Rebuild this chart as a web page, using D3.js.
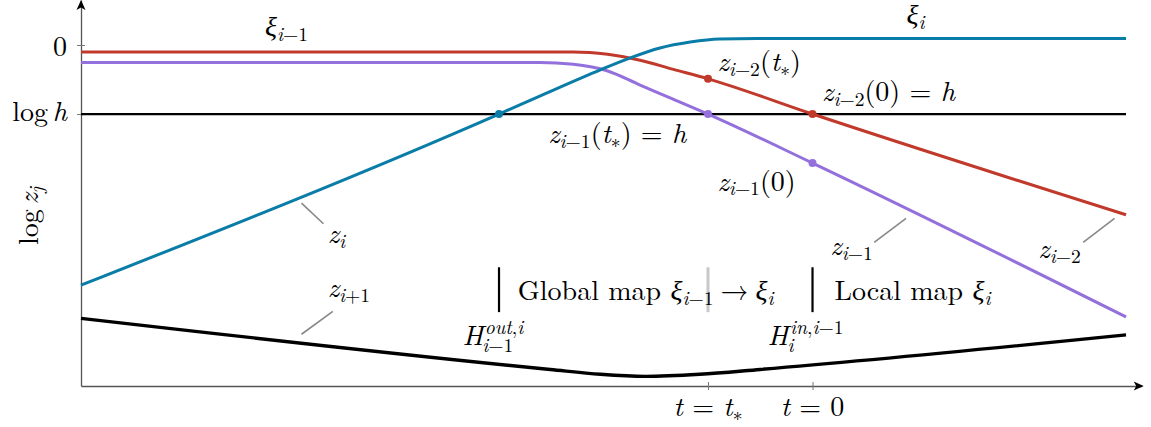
<!DOCTYPE html>
<html>
<head>
<meta charset="utf-8">
<script src="https://cdn.jsdelivr.net/npm/d3@7"></script>
<style>
body{margin:0;background:#fff;}
</style>
</head>
<body>
<div id="chart"></div>
<script>
// all values are in (t, log z) units

// z_{i-2}, red (xi_{i-1} side)
var tRed = [-7, -2.29, -1.96, -1.65, -1.34, -1.0, 0, 3.0];
var zRed = [-0.10, -0.10, -0.135, -0.22, -0.35, -0.49, -1.0, -2.46];

// z_{i-1}, purple
var tPurple = [-7, -2.61, -2.29, -1.96, -1.65, -1.34, -1.0, 0, 3.0];
var zPurple = [-0.254, -0.254, -0.28, -0.377, -0.58, -0.78, -1.0, -1.71, -3.94];

// z_i, blue
var tBlue = [-7, -3.0, -2.61, -2.03, -1.75, -1.46, -1.17, -0.89, -0.53, 3.0];
var zBlue = [-3.48, -1.0, -0.74, -0.36, -0.19, -0.043, 0.043, 0.087, 0.094, 0.094];

// z_{i+1}, black
var tNext = [-7, -2.51, -2.03, -1.60, -1.08, -0.50, 3.0];
var zNext = [-3.96, -4.70, -4.77, -4.80, -4.77, -4.70, -4.20];

// level log h
var tLevel = [-7, 3.0];
var zLevel = [-1, -1];

// marked points
var blueDots = [[-3.0, -1.0]];
var purpleDots = [[-1.0, -1.0], [0, -1.71]];
var redDots = [[-1.0, -0.49], [0, -1.0]];

// ticks
var xTicks = [-1, 0];
var xTickLabels = [
	[["t", "i"], [" = ", "r"], ["t", "i"], ["∗", "_r"]],
	[["t", "i"], [" = 0", "r"]]
];
var yTicks = [0, -1];
var yTickLabels = [
	[["0", "r"]],
	[["log", "r"], ["h", "i", 0.17]]
];

// text labels  (g = greek letter)
var labels = [
	{t: -5.24, z: 0.13, parts: [["ξ", "g"], ["i", "_i"], ["−1", "_r"]]},
	{t: 0.90, z: 0.30, parts: [["ξ", "g"], ["i", "_i"]]},
	{t: -0.91, z: -0.38, parts: [["z", "i"], ["i", "_i"], ["−2", "_r"], ["(", "r"], ["t", "i"], ["∗", "_r"], [")", "r"]]},
	{t: 0.09, z: -0.81, parts: [["z", "i"], ["i", "_i"], ["−2", "_r"], ["(0) = ", "r"], ["h", "i"]]},
	{t: -2.53, z: -1.42, parts: [["z", "i"], ["i", "_i"], ["−1", "_r"], ["(", "r"], ["t", "i"], ["∗", "_r"], [") = ", "r"], ["h", "i"]]},
	{t: -0.91, z: -2.11, parts: [["z", "i"], ["i", "_i"], ["−1", "_r"], ["(0)", "r"]]},
	{t: -4.64, z: -2.87, parts: [["z", "i"], ["i", "_i"]]},
	{t: -4.64, z: -3.65, parts: [["z", "i"], ["i", "_i"], ["+1", "_r"]]},
	{t: 0.17, z: -3.04, parts: [["z", "i"], ["i", "_i"], ["−1", "_r"]]},
	{t: 2.16, z: -3.09, parts: [["z", "i"], ["i", "_i"], ["−2", "_r"]]},
	{t: -2.82, z: -3.70, parts: [["Global map ", "r"], ["ξ", "g"], ["i", "_i"], ["−1", "_r"], ["→", "r", 0.25], ["ξ", "g", 0.25], ["i", "_i"]]},
	{t: 0.21, z: -3.70, parts: [["Local map ", "r"], ["ξ", "g"], ["i", "_i"]]}
];

// H with sub and superscript
var hLabels = [
	{t: -3.35, z: -4.35, sub: [["i", "i"], ["−1", "r"]], sup: [["out", "i"], [",", "r"], ["i", "i"]]},
	{t: -0.43, z: -4.35, sub: [["i", "i"]], sup: [["in", "i"], [",", "r"], ["i", "i"], ["−1", "r"]]}
];

// leader lines from labels to curves
var leaders = [
	[[-4.89, -2.29], [-4.68, -2.59]],
	[[-4.59, -3.86], [-4.89, -4.19]],
	[[0.895, -2.51], [0.59, -2.86]],
	[[2.89, -2.51], [2.59, -2.86]]
];

// map separators
var sepT = [-3.0, 0];
var faintSepT = [-1.0];
var sepZ = [-3.22, -3.87];

var W = 1151, H = 427, fs = 28;
var serif = "'Latin Modern Roman', 'Liberation Serif', serif";
var greek = "'Liberation Serif', serif";

var x = d3.scaleLinear().domain([-7, 3.15]).range([81, 1141.7]);
var y = d3.scaleLinear().domain([-4.94, 0.652]).range([386, 0]);

var svg = d3.select("#chart").append("svg")
	.attr("width", W)
	.attr("height", H);

// writes a little math string as tspans, part = [text, style, optional gap in em]
function mathText(g, px, py, parts, anchor, size){
	var f = size || fs;
	var txt = g.append("text")
		.attr("x", px)
		.attr("y", py)
		.attr("text-anchor", anchor || "start")
		.attr("font-family", serif)
		.style("white-space", "pre")
		.style("font-size", f + "px");
	var cur = 0;
	parts.forEach(function(p){
		var s = p[1];
		var shift = s[0] == "_" ? 0.17 * f : (s[0] == "^" ? -0.41 * f : 0);
		var last = s[s.length - 1];
		var ts = txt.append("tspan")
			.attr("dy", shift - cur)
			.style("font-size", shift != 0 ? (0.7 * f) + "px" : null)
			.style("font-style", (last == "i" || last == "g") ? "italic" : "normal")
			.text(p[0]);
		if (p[2]) ts.attr("dx", p[2] * f);
		if (last == "g") ts.attr("font-family", greek);
		cur = shift;
	});
	return txt;
}

// axes
var xAxis = d3.axisBottom(x).tickValues(xTicks).tickSize(4).tickSizeOuter(0).tickFormat("");
var yAxis = d3.axisLeft(y).tickValues(yTicks).tickSize(4).tickSizeOuter(0).tickFormat("");

var gx = svg.append("g")
	.attr("transform", "translate(0," + y.range()[0] + ")")
	.call(xAxis);
var gy = svg.append("g")
	.attr("transform", "translate(" + x.range()[0] + ",0)")
	.call(yAxis);

[gx, gy].forEach(function(g){
	g.select(".domain").attr("stroke", "#555").attr("stroke-width", 1.3);
	g.selectAll(".tick line").attr("stroke", "#777").attr("stroke-width", 1);
});
gx.selectAll(".tick line").attr("y1", -4).attr("y2", 4);
gy.selectAll(".tick line").attr("x1", -4).attr("x2", 4);

// arrow heads
var xEnd = x.range()[1] + 2, yEnd = y.range()[1];
svg.append("path")
	.attr("d", "M" + xEnd + "," + y.range()[0] + " l-10,-4.5 l2.5,4.5 l-2.5,4.5 z")
	.attr("fill", "#000");
svg.append("path")
	.attr("d", "M" + x.range()[0] + "," + yEnd + " l-4.5,10 l4.5,-2.5 l4.5,2.5 z")
	.attr("fill", "#000");

// tick labels
xTicks.forEach(function(v, i){
	mathText(svg, x(v), y.range()[0] + 30, xTickLabels[i], "middle");
});
yTicks.forEach(function(v, i){
	mathText(svg, x.range()[0] - 14, y(v) + (i == 0 ? 11 : 7), yTickLabels[i], "end");
});

// y axis title
var yt = svg.append("g").attr("transform", "translate(38,216) rotate(-90)");
mathText(yt, 0, 0, [["log", "r"], ["z", "i", 0.17], ["j", "_i"]], "middle");

// curves
var line = d3.line()
	.x(function(d){ return x(d[0]); })
	.y(function(d){ return y(d[1]); })
	.curve(d3.curveMonotoneX);

function series(ts, zs){
	return ts.map(function(t, i){ return [t, zs[i]]; });
}

svg.append("path")
	.attr("d", line(series(tLevel, zLevel)))
	.attr("fill", "none").attr("stroke", "#000").attr("stroke-width", 2.2);

svg.append("path")
	.attr("d", line(series(tNext, zNext)))
	.attr("fill", "none").attr("stroke", "#000").attr("stroke-width", 3.4);

svg.append("path")
	.attr("d", line(series(tRed, zRed)))
	.attr("fill", "none").attr("stroke", "#c0392b").attr("stroke-width", 3);

svg.append("path")
	.attr("d", line(series(tPurple, zPurple)))
	.attr("fill", "none").attr("stroke", "#9370db").attr("stroke-width", 3);

svg.append("path")
	.attr("d", line(series(tBlue, zBlue)))
	.attr("fill", "none").attr("stroke", "#0a7ca8").attr("stroke-width", 3);

// dots
function dots(data, color){
	svg.selectAll(null)
		.data(data)
		.enter()
		.append("circle")
		.attr("cx", function(d){ return x(d[0]); })
		.attr("cy", function(d){ return y(d[1]); })
		.attr("r", 4)
		.style("fill", color);
}
dots(blueDots, "#0a7ca8");
dots(purpleDots, "#9370db");
dots(redDots, "#c0392b");

// leader lines
svg.selectAll(null)
	.data(leaders)
	.enter()
	.append("line")
	.attr("x1", function(d){ return x(d[0][0]); })
	.attr("y1", function(d){ return y(d[0][1]); })
	.attr("x2", function(d){ return x(d[1][0]); })
	.attr("y2", function(d){ return y(d[1][1]); })
	.attr("stroke", "#888")
	.attr("stroke-width", 1.6);

// separators
svg.selectAll(null)
	.data(faintSepT)
	.enter()
	.append("line")
	.attr("x1", function(d){ return x(d); })
	.attr("x2", function(d){ return x(d); })
	.attr("y1", y(sepZ[0]))
	.attr("y2", y(sepZ[1]))
	.attr("stroke", "#c8c8c8")
	.attr("stroke-width", 3);

svg.selectAll(null)
	.data(sepT)
	.enter()
	.append("line")
	.attr("x1", function(d){ return x(d); })
	.attr("x2", function(d){ return x(d); })
	.attr("y1", y(sepZ[0]))
	.attr("y2", y(sepZ[1]))
	.attr("stroke", "#000")
	.attr("stroke-width", 2.2);

// labels
labels.forEach(function(l){
	mathText(svg, x(l.t), y(l.z), l.parts, "start");
});

hLabels.forEach(function(l){
	var px = x(l.t), py = y(l.z);
	var txt = mathText(svg, px, py, [["H", "i"]], "start");
	var w = txt.node().getComputedTextLength();
	mathText(svg, px + w - 1, py + 0.25 * fs, l.sub, "start", 0.7 * fs);
	mathText(svg, px + w + 1.5, py - 0.41 * fs, l.sup, "start", 0.7 * fs);
});
</script>
</body>
</html>
